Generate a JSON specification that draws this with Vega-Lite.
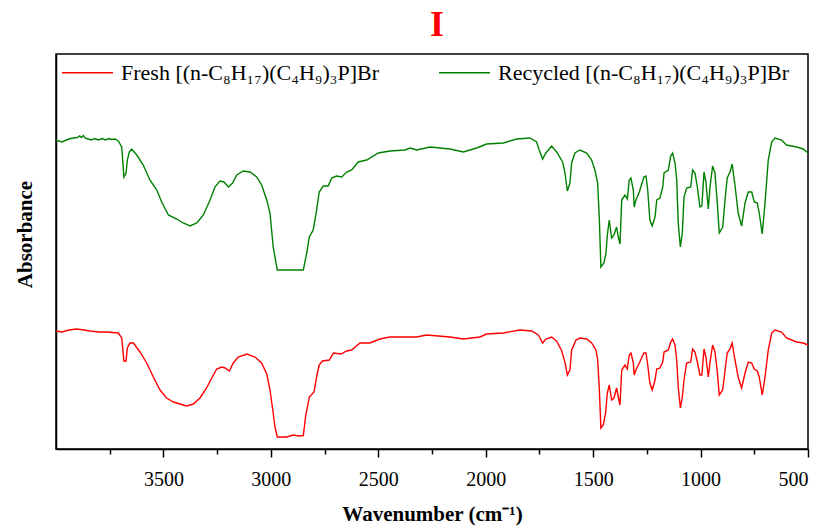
{
  "$schema": "https://vega.github.io/schema/vega-lite/v6.json",
  "width": 752,
  "height": 395,
  "autosize": "none",
  "padding": {"left": 56, "top": 54, "right": 22, "bottom": 81},
  "background": "white",
  "title": {
    "text": "I",
    "color": "#ff0000",
    "font": "Liberation Serif",
    "fontSize": 36,
    "fontWeight": "bold",
    "anchor": "middle",
    "baseline": "alphabetic",
    "frame": "group",
    "offset": 17,
    "dx": 5,
    "dy": 43
  },
  "config": {
    "view": {"stroke": "black", "strokeWidth": 1.5},
    "axis": {
      "domainColor": "black",
      "domainWidth": 1.5,
      "tickColor": "black",
      "tickWidth": 1.5,
      "labelFont": "Liberation Serif",
      "labelColor": "black",
      "titleFont": "Liberation Serif",
      "titleColor": "black",
      "titleFontWeight": "bold",
      "grid": false
    }
  },
  "data": {
    "values": [
      {"sample": "Recycled", "wavenumber": 4000, "absorbance": 3.09},
      {"sample": "Recycled", "wavenumber": 3973, "absorbance": 3.07},
      {"sample": "Recycled", "wavenumber": 3940, "absorbance": 3.10},
      {"sample": "Recycled", "wavenumber": 3919, "absorbance": 3.11},
      {"sample": "Recycled", "wavenumber": 3900, "absorbance": 3.115},
      {"sample": "Recycled", "wavenumber": 3890, "absorbance": 3.13},
      {"sample": "Recycled", "wavenumber": 3882, "absorbance": 3.115},
      {"sample": "Recycled", "wavenumber": 3873, "absorbance": 3.135},
      {"sample": "Recycled", "wavenumber": 3865, "absorbance": 3.11},
      {"sample": "Recycled", "wavenumber": 3850, "absorbance": 3.10},
      {"sample": "Recycled", "wavenumber": 3835, "absorbance": 3.09},
      {"sample": "Recycled", "wavenumber": 3820, "absorbance": 3.105},
      {"sample": "Recycled", "wavenumber": 3803, "absorbance": 3.09},
      {"sample": "Recycled", "wavenumber": 3785, "absorbance": 3.105},
      {"sample": "Recycled", "wavenumber": 3770, "absorbance": 3.09},
      {"sample": "Recycled", "wavenumber": 3755, "absorbance": 3.105},
      {"sample": "Recycled", "wavenumber": 3741, "absorbance": 3.095},
      {"sample": "Recycled", "wavenumber": 3725, "absorbance": 3.10},
      {"sample": "Recycled", "wavenumber": 3710, "absorbance": 3.08},
      {"sample": "Recycled", "wavenumber": 3694, "absorbance": 3.02},
      {"sample": "Recycled", "wavenumber": 3684, "absorbance": 2.72},
      {"sample": "Recycled", "wavenumber": 3674, "absorbance": 2.76},
      {"sample": "Recycled", "wavenumber": 3668, "absorbance": 2.89},
      {"sample": "Recycled", "wavenumber": 3659, "absorbance": 2.97},
      {"sample": "Recycled", "wavenumber": 3648, "absorbance": 3.00},
      {"sample": "Recycled", "wavenumber": 3624, "absorbance": 2.94},
      {"sample": "Recycled", "wavenumber": 3594, "absorbance": 2.84},
      {"sample": "Recycled", "wavenumber": 3563, "absorbance": 2.69},
      {"sample": "Recycled", "wavenumber": 3531, "absorbance": 2.59},
      {"sample": "Recycled", "wavenumber": 3508, "absorbance": 2.47},
      {"sample": "Recycled", "wavenumber": 3477, "absorbance": 2.34},
      {"sample": "Recycled", "wavenumber": 3438, "absorbance": 2.30},
      {"sample": "Recycled", "wavenumber": 3408, "absorbance": 2.26},
      {"sample": "Recycled", "wavenumber": 3376, "absorbance": 2.23},
      {"sample": "Recycled", "wavenumber": 3345, "absorbance": 2.26},
      {"sample": "Recycled", "wavenumber": 3314, "absorbance": 2.34},
      {"sample": "Recycled", "wavenumber": 3283, "absorbance": 2.49},
      {"sample": "Recycled", "wavenumber": 3260, "absorbance": 2.62},
      {"sample": "Recycled", "wavenumber": 3237, "absorbance": 2.68},
      {"sample": "Recycled", "wavenumber": 3218, "absorbance": 2.67},
      {"sample": "Recycled", "wavenumber": 3198, "absorbance": 2.62},
      {"sample": "Recycled", "wavenumber": 3178, "absorbance": 2.66},
      {"sample": "Recycled", "wavenumber": 3159, "absorbance": 2.74},
      {"sample": "Recycled", "wavenumber": 3128, "absorbance": 2.78},
      {"sample": "Recycled", "wavenumber": 3097, "absorbance": 2.77},
      {"sample": "Recycled", "wavenumber": 3066, "absorbance": 2.72},
      {"sample": "Recycled", "wavenumber": 3043, "absorbance": 2.64},
      {"sample": "Recycled", "wavenumber": 3019, "absorbance": 2.49},
      {"sample": "Recycled", "wavenumber": 3004, "absorbance": 2.36},
      {"sample": "Recycled", "wavenumber": 2989, "absorbance": 2.02},
      {"sample": "Recycled", "wavenumber": 2970, "absorbance": 1.79},
      {"sample": "Recycled", "wavenumber": 2911, "absorbance": 1.79},
      {"sample": "Recycled", "wavenumber": 2849, "absorbance": 1.79},
      {"sample": "Recycled", "wavenumber": 2833, "absorbance": 1.96},
      {"sample": "Recycled", "wavenumber": 2821, "absorbance": 2.12},
      {"sample": "Recycled", "wavenumber": 2803, "absorbance": 2.19},
      {"sample": "Recycled", "wavenumber": 2787, "absorbance": 2.39},
      {"sample": "Recycled", "wavenumber": 2775, "absorbance": 2.57},
      {"sample": "Recycled", "wavenumber": 2756, "absorbance": 2.63},
      {"sample": "Recycled", "wavenumber": 2733, "absorbance": 2.63},
      {"sample": "Recycled", "wavenumber": 2717, "absorbance": 2.71},
      {"sample": "Recycled", "wavenumber": 2694, "absorbance": 2.73},
      {"sample": "Recycled", "wavenumber": 2670, "absorbance": 2.72},
      {"sample": "Recycled", "wavenumber": 2647, "absorbance": 2.77},
      {"sample": "Recycled", "wavenumber": 2624, "absorbance": 2.79},
      {"sample": "Recycled", "wavenumber": 2593, "absorbance": 2.87},
      {"sample": "Recycled", "wavenumber": 2554, "absorbance": 2.89},
      {"sample": "Recycled", "wavenumber": 2500, "absorbance": 2.96},
      {"sample": "Recycled", "wavenumber": 2446, "absorbance": 2.98},
      {"sample": "Recycled", "wavenumber": 2376, "absorbance": 2.99},
      {"sample": "Recycled", "wavenumber": 2352, "absorbance": 3.01},
      {"sample": "Recycled", "wavenumber": 2321, "absorbance": 2.99},
      {"sample": "Recycled", "wavenumber": 2259, "absorbance": 3.02},
      {"sample": "Recycled", "wavenumber": 2166, "absorbance": 3.00},
      {"sample": "Recycled", "wavenumber": 2104, "absorbance": 2.97},
      {"sample": "Recycled", "wavenumber": 2042, "absorbance": 3.01},
      {"sample": "Recycled", "wavenumber": 1996, "absorbance": 3.05},
      {"sample": "Recycled", "wavenumber": 1918, "absorbance": 3.06},
      {"sample": "Recycled", "wavenumber": 1856, "absorbance": 3.10},
      {"sample": "Recycled", "wavenumber": 1794, "absorbance": 3.11},
      {"sample": "Recycled", "wavenumber": 1763, "absorbance": 3.07},
      {"sample": "Recycled", "wavenumber": 1751, "absorbance": 2.99},
      {"sample": "Recycled", "wavenumber": 1735, "absorbance": 2.90},
      {"sample": "Recycled", "wavenumber": 1720, "absorbance": 2.96},
      {"sample": "Recycled", "wavenumber": 1693, "absorbance": 3.03},
      {"sample": "Recycled", "wavenumber": 1670, "absorbance": 2.97},
      {"sample": "Recycled", "wavenumber": 1642, "absorbance": 2.87},
      {"sample": "Recycled", "wavenumber": 1631, "absorbance": 2.76},
      {"sample": "Recycled", "wavenumber": 1620, "absorbance": 2.58},
      {"sample": "Recycled", "wavenumber": 1608, "absorbance": 2.66},
      {"sample": "Recycled", "wavenumber": 1600, "absorbance": 2.86},
      {"sample": "Recycled", "wavenumber": 1585, "absorbance": 2.96},
      {"sample": "Recycled", "wavenumber": 1561, "absorbance": 2.99},
      {"sample": "Recycled", "wavenumber": 1530, "absorbance": 2.96},
      {"sample": "Recycled", "wavenumber": 1507, "absorbance": 2.89},
      {"sample": "Recycled", "wavenumber": 1492, "absorbance": 2.79},
      {"sample": "Recycled", "wavenumber": 1479, "absorbance": 2.66},
      {"sample": "Recycled", "wavenumber": 1471, "absorbance": 2.29},
      {"sample": "Recycled", "wavenumber": 1464, "absorbance": 1.82},
      {"sample": "Recycled", "wavenumber": 1450, "absorbance": 1.86},
      {"sample": "Recycled", "wavenumber": 1440, "absorbance": 1.96},
      {"sample": "Recycled", "wavenumber": 1434, "absorbance": 2.14},
      {"sample": "Recycled", "wavenumber": 1425, "absorbance": 2.29},
      {"sample": "Recycled", "wavenumber": 1414, "absorbance": 2.11},
      {"sample": "Recycled", "wavenumber": 1403, "absorbance": 2.14},
      {"sample": "Recycled", "wavenumber": 1391, "absorbance": 2.22},
      {"sample": "Recycled", "wavenumber": 1383, "absorbance": 2.12},
      {"sample": "Recycled", "wavenumber": 1375, "absorbance": 2.05},
      {"sample": "Recycled", "wavenumber": 1367, "absorbance": 2.49},
      {"sample": "Recycled", "wavenumber": 1352, "absorbance": 2.54},
      {"sample": "Recycled", "wavenumber": 1341, "absorbance": 2.50},
      {"sample": "Recycled", "wavenumber": 1332, "absorbance": 2.69},
      {"sample": "Recycled", "wavenumber": 1324, "absorbance": 2.71},
      {"sample": "Recycled", "wavenumber": 1313, "absorbance": 2.59},
      {"sample": "Recycled", "wavenumber": 1309, "absorbance": 2.42},
      {"sample": "Recycled", "wavenumber": 1301, "absorbance": 2.49},
      {"sample": "Recycled", "wavenumber": 1285, "absorbance": 2.57},
      {"sample": "Recycled", "wavenumber": 1264, "absorbance": 2.72},
      {"sample": "Recycled", "wavenumber": 1254, "absorbance": 2.73},
      {"sample": "Recycled", "wavenumber": 1246, "absorbance": 2.59},
      {"sample": "Recycled", "wavenumber": 1236, "absorbance": 2.29},
      {"sample": "Recycled", "wavenumber": 1225, "absorbance": 2.23},
      {"sample": "Recycled", "wavenumber": 1212, "absorbance": 2.32},
      {"sample": "Recycled", "wavenumber": 1204, "absorbance": 2.49},
      {"sample": "Recycled", "wavenumber": 1189, "absorbance": 2.51},
      {"sample": "Recycled", "wavenumber": 1176, "absorbance": 2.62},
      {"sample": "Recycled", "wavenumber": 1170, "absorbance": 2.76},
      {"sample": "Recycled", "wavenumber": 1150, "absorbance": 2.79},
      {"sample": "Recycled", "wavenumber": 1139, "absorbance": 2.93},
      {"sample": "Recycled", "wavenumber": 1130, "absorbance": 2.96},
      {"sample": "Recycled", "wavenumber": 1119, "absorbance": 2.86},
      {"sample": "Recycled", "wavenumber": 1111, "absorbance": 2.69},
      {"sample": "Recycled", "wavenumber": 1104, "absorbance": 2.26},
      {"sample": "Recycled", "wavenumber": 1094, "absorbance": 2.02},
      {"sample": "Recycled", "wavenumber": 1085, "absorbance": 2.16},
      {"sample": "Recycled", "wavenumber": 1077, "absorbance": 2.52},
      {"sample": "Recycled", "wavenumber": 1065, "absorbance": 2.61},
      {"sample": "Recycled", "wavenumber": 1046, "absorbance": 2.62},
      {"sample": "Recycled", "wavenumber": 1037, "absorbance": 2.79},
      {"sample": "Recycled", "wavenumber": 1026, "absorbance": 2.76},
      {"sample": "Recycled", "wavenumber": 1015, "absorbance": 2.62},
      {"sample": "Recycled", "wavenumber": 1003, "absorbance": 2.42},
      {"sample": "Recycled", "wavenumber": 994, "absorbance": 2.43},
      {"sample": "Recycled", "wavenumber": 984, "absorbance": 2.77},
      {"sample": "Recycled", "wavenumber": 975, "absorbance": 2.67},
      {"sample": "Recycled", "wavenumber": 964, "absorbance": 2.40},
      {"sample": "Recycled", "wavenumber": 956, "absorbance": 2.62},
      {"sample": "Recycled", "wavenumber": 944, "absorbance": 2.83},
      {"sample": "Recycled", "wavenumber": 933, "absorbance": 2.76},
      {"sample": "Recycled", "wavenumber": 922, "absorbance": 2.46},
      {"sample": "Recycled", "wavenumber": 913, "absorbance": 2.16},
      {"sample": "Recycled", "wavenumber": 897, "absorbance": 2.22},
      {"sample": "Recycled", "wavenumber": 887, "absorbance": 2.47},
      {"sample": "Recycled", "wavenumber": 876, "absorbance": 2.71},
      {"sample": "Recycled", "wavenumber": 863, "absorbance": 2.77},
      {"sample": "Recycled", "wavenumber": 853, "absorbance": 2.85},
      {"sample": "Recycled", "wavenumber": 840, "absorbance": 2.64},
      {"sample": "Recycled", "wavenumber": 825, "absorbance": 2.36},
      {"sample": "Recycled", "wavenumber": 809, "absorbance": 2.23},
      {"sample": "Recycled", "wavenumber": 793, "absorbance": 2.46},
      {"sample": "Recycled", "wavenumber": 778, "absorbance": 2.57},
      {"sample": "Recycled", "wavenumber": 762, "absorbance": 2.57},
      {"sample": "Recycled", "wavenumber": 750, "absorbance": 2.47},
      {"sample": "Recycled", "wavenumber": 736, "absorbance": 2.46},
      {"sample": "Recycled", "wavenumber": 727, "absorbance": 2.36},
      {"sample": "Recycled", "wavenumber": 713, "absorbance": 2.15},
      {"sample": "Recycled", "wavenumber": 700, "absorbance": 2.46},
      {"sample": "Recycled", "wavenumber": 685, "absorbance": 2.89},
      {"sample": "Recycled", "wavenumber": 669, "absorbance": 3.07},
      {"sample": "Recycled", "wavenumber": 654, "absorbance": 3.11},
      {"sample": "Recycled", "wavenumber": 623, "absorbance": 3.09},
      {"sample": "Recycled", "wavenumber": 600, "absorbance": 3.04},
      {"sample": "Recycled", "wavenumber": 553, "absorbance": 3.02},
      {"sample": "Recycled", "wavenumber": 522, "absorbance": 3.00},
      {"sample": "Recycled", "wavenumber": 500, "absorbance": 2.96},

      {"sample": "Fresh", "wavenumber": 4000, "absorbance": 1.18},
      {"sample": "Fresh", "wavenumber": 3973, "absorbance": 1.17},
      {"sample": "Fresh", "wavenumber": 3940, "absorbance": 1.19},
      {"sample": "Fresh", "wavenumber": 3904, "absorbance": 1.20},
      {"sample": "Fresh", "wavenumber": 3870, "absorbance": 1.19},
      {"sample": "Fresh", "wavenumber": 3842, "absorbance": 1.18},
      {"sample": "Fresh", "wavenumber": 3800, "absorbance": 1.17},
      {"sample": "Fresh", "wavenumber": 3764, "absorbance": 1.17},
      {"sample": "Fresh", "wavenumber": 3710, "absorbance": 1.16},
      {"sample": "Fresh", "wavenumber": 3694, "absorbance": 1.11},
      {"sample": "Fresh", "wavenumber": 3684, "absorbance": 0.88},
      {"sample": "Fresh", "wavenumber": 3674, "absorbance": 0.88},
      {"sample": "Fresh", "wavenumber": 3668, "absorbance": 1.01},
      {"sample": "Fresh", "wavenumber": 3656, "absorbance": 1.06},
      {"sample": "Fresh", "wavenumber": 3640, "absorbance": 1.06},
      {"sample": "Fresh", "wavenumber": 3609, "absorbance": 0.97},
      {"sample": "Fresh", "wavenumber": 3578, "absorbance": 0.86},
      {"sample": "Fresh", "wavenumber": 3547, "absorbance": 0.72},
      {"sample": "Fresh", "wavenumber": 3516, "absorbance": 0.59},
      {"sample": "Fresh", "wavenumber": 3485, "absorbance": 0.51},
      {"sample": "Fresh", "wavenumber": 3454, "absorbance": 0.47},
      {"sample": "Fresh", "wavenumber": 3423, "absorbance": 0.45},
      {"sample": "Fresh", "wavenumber": 3392, "absorbance": 0.43},
      {"sample": "Fresh", "wavenumber": 3361, "absorbance": 0.45},
      {"sample": "Fresh", "wavenumber": 3330, "absorbance": 0.51},
      {"sample": "Fresh", "wavenumber": 3299, "absorbance": 0.61},
      {"sample": "Fresh", "wavenumber": 3275, "absorbance": 0.71},
      {"sample": "Fresh", "wavenumber": 3252, "absorbance": 0.80},
      {"sample": "Fresh", "wavenumber": 3229, "absorbance": 0.82},
      {"sample": "Fresh", "wavenumber": 3213, "absorbance": 0.81},
      {"sample": "Fresh", "wavenumber": 3193, "absorbance": 0.78},
      {"sample": "Fresh", "wavenumber": 3175, "absorbance": 0.86},
      {"sample": "Fresh", "wavenumber": 3152, "absorbance": 0.92},
      {"sample": "Fresh", "wavenumber": 3112, "absorbance": 0.95},
      {"sample": "Fresh", "wavenumber": 3074, "absorbance": 0.92},
      {"sample": "Fresh", "wavenumber": 3043, "absorbance": 0.86},
      {"sample": "Fresh", "wavenumber": 3019, "absorbance": 0.75},
      {"sample": "Fresh", "wavenumber": 3004, "absorbance": 0.59},
      {"sample": "Fresh", "wavenumber": 2991, "absorbance": 0.39},
      {"sample": "Fresh", "wavenumber": 2981, "absorbance": 0.22},
      {"sample": "Fresh", "wavenumber": 2970, "absorbance": 0.12},
      {"sample": "Fresh", "wavenumber": 2942, "absorbance": 0.12},
      {"sample": "Fresh", "wavenumber": 2926, "absorbance": 0.12},
      {"sample": "Fresh", "wavenumber": 2896, "absorbance": 0.14},
      {"sample": "Fresh", "wavenumber": 2872, "absorbance": 0.13},
      {"sample": "Fresh", "wavenumber": 2849, "absorbance": 0.135},
      {"sample": "Fresh", "wavenumber": 2838, "absorbance": 0.33},
      {"sample": "Fresh", "wavenumber": 2821, "absorbance": 0.52},
      {"sample": "Fresh", "wavenumber": 2799, "absorbance": 0.57},
      {"sample": "Fresh", "wavenumber": 2787, "absorbance": 0.72},
      {"sample": "Fresh", "wavenumber": 2775, "absorbance": 0.84},
      {"sample": "Fresh", "wavenumber": 2760, "absorbance": 0.88},
      {"sample": "Fresh", "wavenumber": 2728, "absorbance": 0.89},
      {"sample": "Fresh", "wavenumber": 2709, "absorbance": 0.96},
      {"sample": "Fresh", "wavenumber": 2674, "absorbance": 0.95},
      {"sample": "Fresh", "wavenumber": 2647, "absorbance": 0.98},
      {"sample": "Fresh", "wavenumber": 2624, "absorbance": 0.99},
      {"sample": "Fresh", "wavenumber": 2585, "absorbance": 1.06},
      {"sample": "Fresh", "wavenumber": 2539, "absorbance": 1.06},
      {"sample": "Fresh", "wavenumber": 2492, "absorbance": 1.10},
      {"sample": "Fresh", "wavenumber": 2446, "absorbance": 1.12},
      {"sample": "Fresh", "wavenumber": 2384, "absorbance": 1.12},
      {"sample": "Fresh", "wavenumber": 2321, "absorbance": 1.12},
      {"sample": "Fresh", "wavenumber": 2275, "absorbance": 1.14},
      {"sample": "Fresh", "wavenumber": 2166, "absorbance": 1.12},
      {"sample": "Fresh", "wavenumber": 2104, "absorbance": 1.10},
      {"sample": "Fresh", "wavenumber": 2027, "absorbance": 1.12},
      {"sample": "Fresh", "wavenumber": 1996, "absorbance": 1.15},
      {"sample": "Fresh", "wavenumber": 1918, "absorbance": 1.16},
      {"sample": "Fresh", "wavenumber": 1841, "absorbance": 1.19},
      {"sample": "Fresh", "wavenumber": 1786, "absorbance": 1.18},
      {"sample": "Fresh", "wavenumber": 1755, "absorbance": 1.14},
      {"sample": "Fresh", "wavenumber": 1735, "absorbance": 1.06},
      {"sample": "Fresh", "wavenumber": 1720, "absorbance": 1.10},
      {"sample": "Fresh", "wavenumber": 1693, "absorbance": 1.12},
      {"sample": "Fresh", "wavenumber": 1670, "absorbance": 1.08},
      {"sample": "Fresh", "wavenumber": 1647, "absorbance": 0.985},
      {"sample": "Fresh", "wavenumber": 1631, "absorbance": 0.865},
      {"sample": "Fresh", "wavenumber": 1620, "absorbance": 0.74},
      {"sample": "Fresh", "wavenumber": 1608, "absorbance": 0.79},
      {"sample": "Fresh", "wavenumber": 1600, "absorbance": 0.99},
      {"sample": "Fresh", "wavenumber": 1580, "absorbance": 1.09},
      {"sample": "Fresh", "wavenumber": 1561, "absorbance": 1.11},
      {"sample": "Fresh", "wavenumber": 1530, "absorbance": 1.10},
      {"sample": "Fresh", "wavenumber": 1507, "absorbance": 1.06},
      {"sample": "Fresh", "wavenumber": 1487, "absorbance": 0.99},
      {"sample": "Fresh", "wavenumber": 1479, "absorbance": 0.89},
      {"sample": "Fresh", "wavenumber": 1471, "absorbance": 0.59},
      {"sample": "Fresh", "wavenumber": 1464, "absorbance": 0.21},
      {"sample": "Fresh", "wavenumber": 1453, "absorbance": 0.24},
      {"sample": "Fresh", "wavenumber": 1442, "absorbance": 0.36},
      {"sample": "Fresh", "wavenumber": 1434, "absorbance": 0.56},
      {"sample": "Fresh", "wavenumber": 1425, "absorbance": 0.64},
      {"sample": "Fresh", "wavenumber": 1414, "absorbance": 0.49},
      {"sample": "Fresh", "wavenumber": 1403, "absorbance": 0.51},
      {"sample": "Fresh", "wavenumber": 1391, "absorbance": 0.61},
      {"sample": "Fresh", "wavenumber": 1383, "absorbance": 0.52},
      {"sample": "Fresh", "wavenumber": 1375, "absorbance": 0.44},
      {"sample": "Fresh", "wavenumber": 1367, "absorbance": 0.79},
      {"sample": "Fresh", "wavenumber": 1352, "absorbance": 0.84},
      {"sample": "Fresh", "wavenumber": 1341, "absorbance": 0.80},
      {"sample": "Fresh", "wavenumber": 1332, "absorbance": 0.94},
      {"sample": "Fresh", "wavenumber": 1324, "absorbance": 0.96},
      {"sample": "Fresh", "wavenumber": 1313, "absorbance": 0.86},
      {"sample": "Fresh", "wavenumber": 1309, "absorbance": 0.74},
      {"sample": "Fresh", "wavenumber": 1301, "absorbance": 0.79},
      {"sample": "Fresh", "wavenumber": 1285, "absorbance": 0.86},
      {"sample": "Fresh", "wavenumber": 1264, "absorbance": 0.96},
      {"sample": "Fresh", "wavenumber": 1254, "absorbance": 0.96},
      {"sample": "Fresh", "wavenumber": 1246, "absorbance": 0.84},
      {"sample": "Fresh", "wavenumber": 1236, "absorbance": 0.66},
      {"sample": "Fresh", "wavenumber": 1225, "absorbance": 0.59},
      {"sample": "Fresh", "wavenumber": 1212, "absorbance": 0.69},
      {"sample": "Fresh", "wavenumber": 1204, "absorbance": 0.80},
      {"sample": "Fresh", "wavenumber": 1189, "absorbance": 0.81},
      {"sample": "Fresh", "wavenumber": 1176, "absorbance": 0.87},
      {"sample": "Fresh", "wavenumber": 1170, "absorbance": 0.97},
      {"sample": "Fresh", "wavenumber": 1150, "absorbance": 0.99},
      {"sample": "Fresh", "wavenumber": 1139, "absorbance": 1.07},
      {"sample": "Fresh", "wavenumber": 1130, "absorbance": 1.10},
      {"sample": "Fresh", "wavenumber": 1119, "absorbance": 1.04},
      {"sample": "Fresh", "wavenumber": 1111, "absorbance": 0.89},
      {"sample": "Fresh", "wavenumber": 1104, "absorbance": 0.62},
      {"sample": "Fresh", "wavenumber": 1094, "absorbance": 0.41},
      {"sample": "Fresh", "wavenumber": 1085, "absorbance": 0.52},
      {"sample": "Fresh", "wavenumber": 1077, "absorbance": 0.69},
      {"sample": "Fresh", "wavenumber": 1065, "absorbance": 0.86},
      {"sample": "Fresh", "wavenumber": 1046, "absorbance": 0.87},
      {"sample": "Fresh", "wavenumber": 1037, "absorbance": 1.00},
      {"sample": "Fresh", "wavenumber": 1026, "absorbance": 0.97},
      {"sample": "Fresh", "wavenumber": 1015, "absorbance": 0.87},
      {"sample": "Fresh", "wavenumber": 1003, "absorbance": 0.74},
      {"sample": "Fresh", "wavenumber": 994, "absorbance": 0.74},
      {"sample": "Fresh", "wavenumber": 984, "absorbance": 1.00},
      {"sample": "Fresh", "wavenumber": 975, "absorbance": 0.92},
      {"sample": "Fresh", "wavenumber": 964, "absorbance": 0.72},
      {"sample": "Fresh", "wavenumber": 956, "absorbance": 0.87},
      {"sample": "Fresh", "wavenumber": 944, "absorbance": 1.04},
      {"sample": "Fresh", "wavenumber": 933, "absorbance": 0.97},
      {"sample": "Fresh", "wavenumber": 922, "absorbance": 0.77},
      {"sample": "Fresh", "wavenumber": 913, "absorbance": 0.54},
      {"sample": "Fresh", "wavenumber": 897, "absorbance": 0.59},
      {"sample": "Fresh", "wavenumber": 887, "absorbance": 0.77},
      {"sample": "Fresh", "wavenumber": 876, "absorbance": 0.96},
      {"sample": "Fresh", "wavenumber": 863, "absorbance": 1.00},
      {"sample": "Fresh", "wavenumber": 853, "absorbance": 1.06},
      {"sample": "Fresh", "wavenumber": 840, "absorbance": 0.89},
      {"sample": "Fresh", "wavenumber": 825, "absorbance": 0.72},
      {"sample": "Fresh", "wavenumber": 809, "absorbance": 0.61},
      {"sample": "Fresh", "wavenumber": 793, "absorbance": 0.76},
      {"sample": "Fresh", "wavenumber": 778, "absorbance": 0.87},
      {"sample": "Fresh", "wavenumber": 762, "absorbance": 0.86},
      {"sample": "Fresh", "wavenumber": 750, "absorbance": 0.80},
      {"sample": "Fresh", "wavenumber": 736, "absorbance": 0.78},
      {"sample": "Fresh", "wavenumber": 727, "absorbance": 0.72},
      {"sample": "Fresh", "wavenumber": 713, "absorbance": 0.54},
      {"sample": "Fresh", "wavenumber": 700, "absorbance": 0.72},
      {"sample": "Fresh", "wavenumber": 685, "absorbance": 0.99},
      {"sample": "Fresh", "wavenumber": 669, "absorbance": 1.16},
      {"sample": "Fresh", "wavenumber": 654, "absorbance": 1.19},
      {"sample": "Fresh", "wavenumber": 623, "absorbance": 1.17},
      {"sample": "Fresh", "wavenumber": 600, "absorbance": 1.11},
      {"sample": "Fresh", "wavenumber": 553, "absorbance": 1.07},
      {"sample": "Fresh", "wavenumber": 522, "absorbance": 1.06},
      {"sample": "Fresh", "wavenumber": 500, "absorbance": 1.04}
    ]
  },
  "mark": {"type": "line", "strokeWidth": 1.4, "interpolate": "linear"},
  "encoding": {
    "x": {
      "field": "wavenumber",
      "type": "quantitative",
      "scale": {"domain": [500, 4000], "reverse": true, "nice": false, "zero": false},
      "axis": {
        "title": "Wavenumber (cm⁻¹)",
        "titleFontSize": 21,
        "titlePadding": 14,
        "values": [3750, 3500, 3250, 3000, 2750, 2500, 2250, 2000, 1750, 1500, 1250, 1000, 750, 500],
        "format": "d",
        "labelExpr": "datum.value % 500 === 0 ? datum.label : ''",
        "labelFontSize": 20,
        "labelPadding": 12,
        "tickSize": {"condition": {"test": "datum.value % 500 === 0", "value": 8}, "value": 5}
      }
    },
    "y": {
      "field": "absorbance",
      "type": "quantitative",
      "scale": {"domain": [0, 3.95], "nice": false, "zero": false},
      "axis": {
        "title": "Absorbance",
        "titleFontSize": 21,
        "titleAngle": -90,
        "titleBaseline": "middle",
        "titleX": -31,
        "titleY": 180,
        "labels": false,
        "ticks": false
      }
    },
    "color": {
      "field": "sample",
      "type": "nominal",
      "scale": {"domain": ["Fresh", "Recycled"], "range": ["#ff0000", "#008000"]},
      "legend": {
        "title": null,
        "orient": "none",
        "direction": "horizontal",
        "legendX": 5,
        "legendY": -8,
        "padding": 0,
        "symbolType": "stroke",
        "symbolSize": 2601,
        "symbolStrokeWidth": 1.5,
        "labelFont": "Liberation Serif",
        "labelFontSize": 22,
        "labelColor": "black",
        "labelOffset": 7,
        "labelLimit": 0,
        "columnPadding": 56,
        "labelExpr": "datum.label === 'Fresh' ? 'Fresh [(n-C₈H₁₇)(C₄H₉)₃P]Br' : 'Recycled [(n-C₈H₁₇)(C₄H₉)₃P]Br'"
      }
    }
  }
}
